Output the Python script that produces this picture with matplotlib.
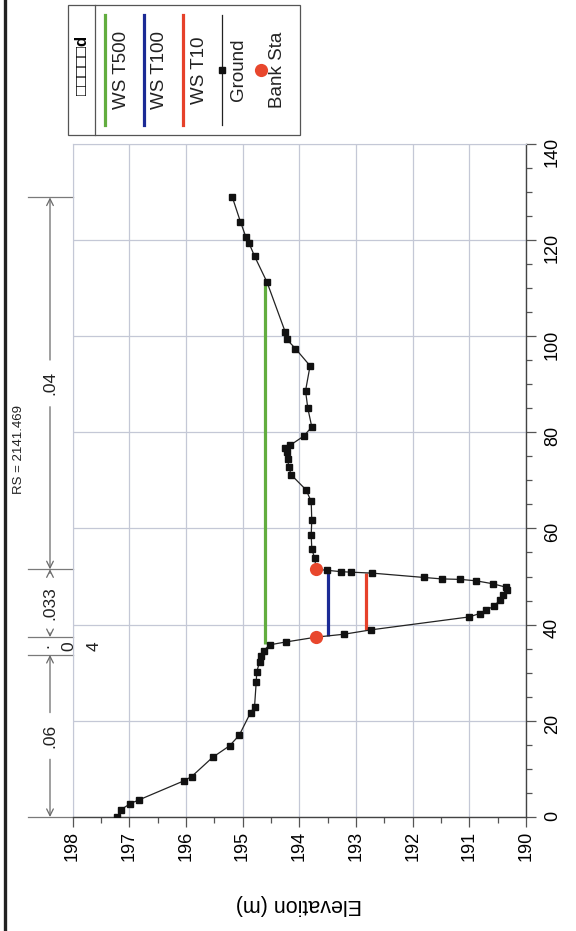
import matplotlib
matplotlib.use('Agg')
import matplotlib.pyplot as plt
import numpy as np
from matplotlib.lines import Line2D
from matplotlib.patches import Rectangle
from matplotlib.transforms import blended_transform_factory

plt.rcParams['font.family'] = ['Liberation Sans', 'DejaVu Sans']

# cross-section data (station m, elevation m)
station = [0.0, 1.5, 2.8, 3.6, 7.5, 8.4, 12.4, 14.8, 17.0, 21.7, 22.9, 28.1,
           30.2, 32.3, 33.5, 34.6, 35.8, 36.4, 37.4, 38.0, 38.9, 41.6, 42.3,
           43.0, 43.9, 45.1, 46.1, 47.2, 47.8, 48.5, 49.1, 49.4, 49.5, 49.8,
           50.7, 50.9, 51.0, 51.3, 51.5, 53.8, 55.8, 58.6, 61.7, 65.6, 68.0,
           71.1, 72.8, 74.5, 75.9, 76.8, 77.3, 79.2, 81.1, 85.0, 88.6, 93.8,
           97.4, 99.3, 100.9, 111.2, 116.6, 119.4, 120.5, 123.8, 128.8]
elevation = [197.21, 197.15, 196.98, 196.82, 196.04, 195.90, 195.53, 195.23,
             195.06, 194.86, 194.79, 194.76, 194.75, 194.70, 194.67, 194.63,
             194.52, 194.23, 193.70, 193.21, 192.74, 191.00, 190.82, 190.70,
             190.56, 190.46, 190.40, 190.34, 190.36, 190.59, 190.88, 191.16,
             191.49, 191.80, 192.71, 193.08, 193.26, 193.52, 193.70, 193.73,
             193.78, 193.79, 193.78, 193.79, 193.88, 194.14, 194.19, 194.20,
             194.22, 194.25, 194.16, 193.92, 193.78, 193.85, 193.89, 193.81,
             194.07, 194.22, 194.25, 194.57, 194.79, 194.89, 194.94, 195.04,
             195.18]

bank_sta = [37.4, 51.5]

ws_names = ['WS T500', 'WS T100', 'WS T10']
ws_elev = [194.61, 193.50, 192.82]
ws_left = [35.9, 37.6, 38.9]
ws_right = [111.2, 51.5, 50.8]
ws_colors = ['#62ad3f', '#1b2a95', '#e6412a']

n_breaks = [0.0, 33.7, 37.4, 51.5, 128.8]
n_values = ['.06', '.04', '.033', '.04']

elev_ticks = list(range(190, 199))
sta_ticks = list(range(0, 141, 20))
title = 'RS = 2141.469'

W, H = 576, 931


def fx(px):
    return px / W


def fy(py):
    return 1 - py / H


fig = plt.figure(figsize=(W / 100, H / 100), dpi=100)
fig.patch.set_facecolor('white')

AX_L, AX_R, AX_T, AX_B = 72.6, 526.0, 143.6, 817.0
ax = fig.add_axes([fx(AX_L), fy(AX_B), fx(AX_R) - fx(AX_L), fy(AX_T) - fy(AX_B)])


def ax_x(px):
    return (px - AX_L) / (AX_R - AX_L)


grid_c = '#c4c8d6'

# water surfaces
for e, a, b, c in zip(ws_elev, ws_left, ws_right, ws_colors):
    ax.plot([e, e], [a, b], color=c, lw=2.3, zorder=3, solid_capstyle='butt')

# ground
ax.plot(elevation, station, color='#222222', lw=0.9, marker='s', ms=4.8,
        mfc='#111111', mec='#111111', zorder=4)

# bank stations
bank_elev = np.interp(bank_sta, station, elevation)
ax.plot(bank_elev, bank_sta, 'o', color='#e8472d', ms=9.5, mec='none', zorder=5)

ax.set_xlim(198, 190)
ax.set_ylim(0, 140)
ax.set_xticks(elev_ticks)
ax.set_xticks(np.arange(190.5, 198, 1), minor=True)
ax.set_yticks(sta_ticks)
ax.set_yticks([s for s in range(0, 141, 5) if s % 20], minor=True)
ax.yaxis.tick_right()
ax.tick_params(axis='both', which='both', direction='out', color='#555555',
               labelsize=13, labelrotation=90)
ax.tick_params(axis='both', which='major', length=7, width=0.9)
ax.tick_params(axis='both', which='minor', length=4.5, width=0.9)
ax.tick_params(axis='x', pad=3)
ax.tick_params(axis='y', pad=6)
ax.grid(True, which='major', color=grid_c, lw=0.9)
ax.set_axisbelow(True)
for side in ['left', 'top']:
    ax.spines[side].set_color(grid_c)
for side in ['right', 'bottom']:
    ax.spines[side].set_color('#444444')
    ax.spines[side].set_linewidth(1.0)

ax.set_xlabel('Elevation (m)', fontsize=15.5, rotation=180, va='center')
ax.xaxis.set_label_coords(0.5, (AX_B - 905) / (AX_B - AX_T))

# manning's n brackets
trans = blended_transform_factory(ax.transAxes, ax.transData)
arrow_x = ax_x(50)
for b in n_breaks:
    ax.plot([ax_x(28), 0], [b, b], transform=trans, color='#7a7a7a', lw=0.9,
            clip_on=False)
for a, b, n in zip(n_breaks[:-1], n_breaks[1:], n_values):
    mid = (a + b) / 2
    if (b - a) * 4.81 < 40:
        # too narrow: label wraps one character per line
        ax.text(ax_x(36), mid, '\n'.join(n), transform=trans, rotation=90,
                ha='left', va='center', fontsize=12.5, linespacing=1.85,
                multialignment='center', color='#222222')
        continue
    ax.text(arrow_x, mid, n, transform=trans, rotation=90, ha='center',
            va='center', fontsize=12.5, color='#222222')
    gap = 4.6 * len(n) + 3
    for end in (a, b):
        ax.annotate('', xy=(arrow_x, end), xytext=(arrow_x, mid),
                    xycoords=trans, textcoords=trans,
                    arrowprops=dict(arrowstyle='->', color='#6a6a6a', lw=0.9,
                                    shrinkA=gap, shrinkB=0, mutation_scale=12))

# title
fig.text(fx(19), fy(450), title, rotation=90, ha='center', va='center',
         fontsize=9.5, color='#222222')

# legend (drawn by hand, rotated)
fig.add_artist(Rectangle((fx(68), fy(135)), fx(300) - fx(68), fy(5) - fy(135),
                         transform=fig.transFigure, fill=False, ec='#555555',
                         lw=0.9))
fig.add_artist(Line2D([fx(95), fx(95)], [fy(5), fy(135)], color='#555555',
                      lw=0.9))
fig.text(fx(82), fy(65), '\u25a1\u25a1\u25a1\u25a1\u25a1d', rotation=90,
         ha='center', va='center', fontsize=12, fontweight='bold')
leg_labels = ws_names + ['Ground', 'Bank Sta']
for i, lab in enumerate(leg_labels):
    lx = 105 + 39 * i
    if i < 3:
        fig.add_artist(Line2D([fx(lx), fx(lx)], [fy(15), fy(125)],
                              color=ws_colors[i], lw=2.3))
    elif lab == 'Ground':
        fig.add_artist(Line2D([fx(lx), fx(lx)], [fy(15), fy(125)],
                              color='#222222', lw=0.9))
        fig.add_artist(Line2D([fx(lx)], [fy(70)], marker='s', ms=4.8,
                              color='#111111', lw=0))
    else:
        fig.add_artist(Line2D([fx(lx)], [fy(70)], marker='o', ms=9.5,
                              color='#e8472d', mec='none', lw=0))
    fig.text(fx(lx + 16), fy(70), lab, rotation=90, ha='center', va='center',
             fontsize=13.5, color='#222222')

# scanned page border
fig.add_artist(Line2D([fx(5), fx(5)], [0, 1], color='#222222', lw=2.4))

fig.savefig('out.png', dpi=100)
